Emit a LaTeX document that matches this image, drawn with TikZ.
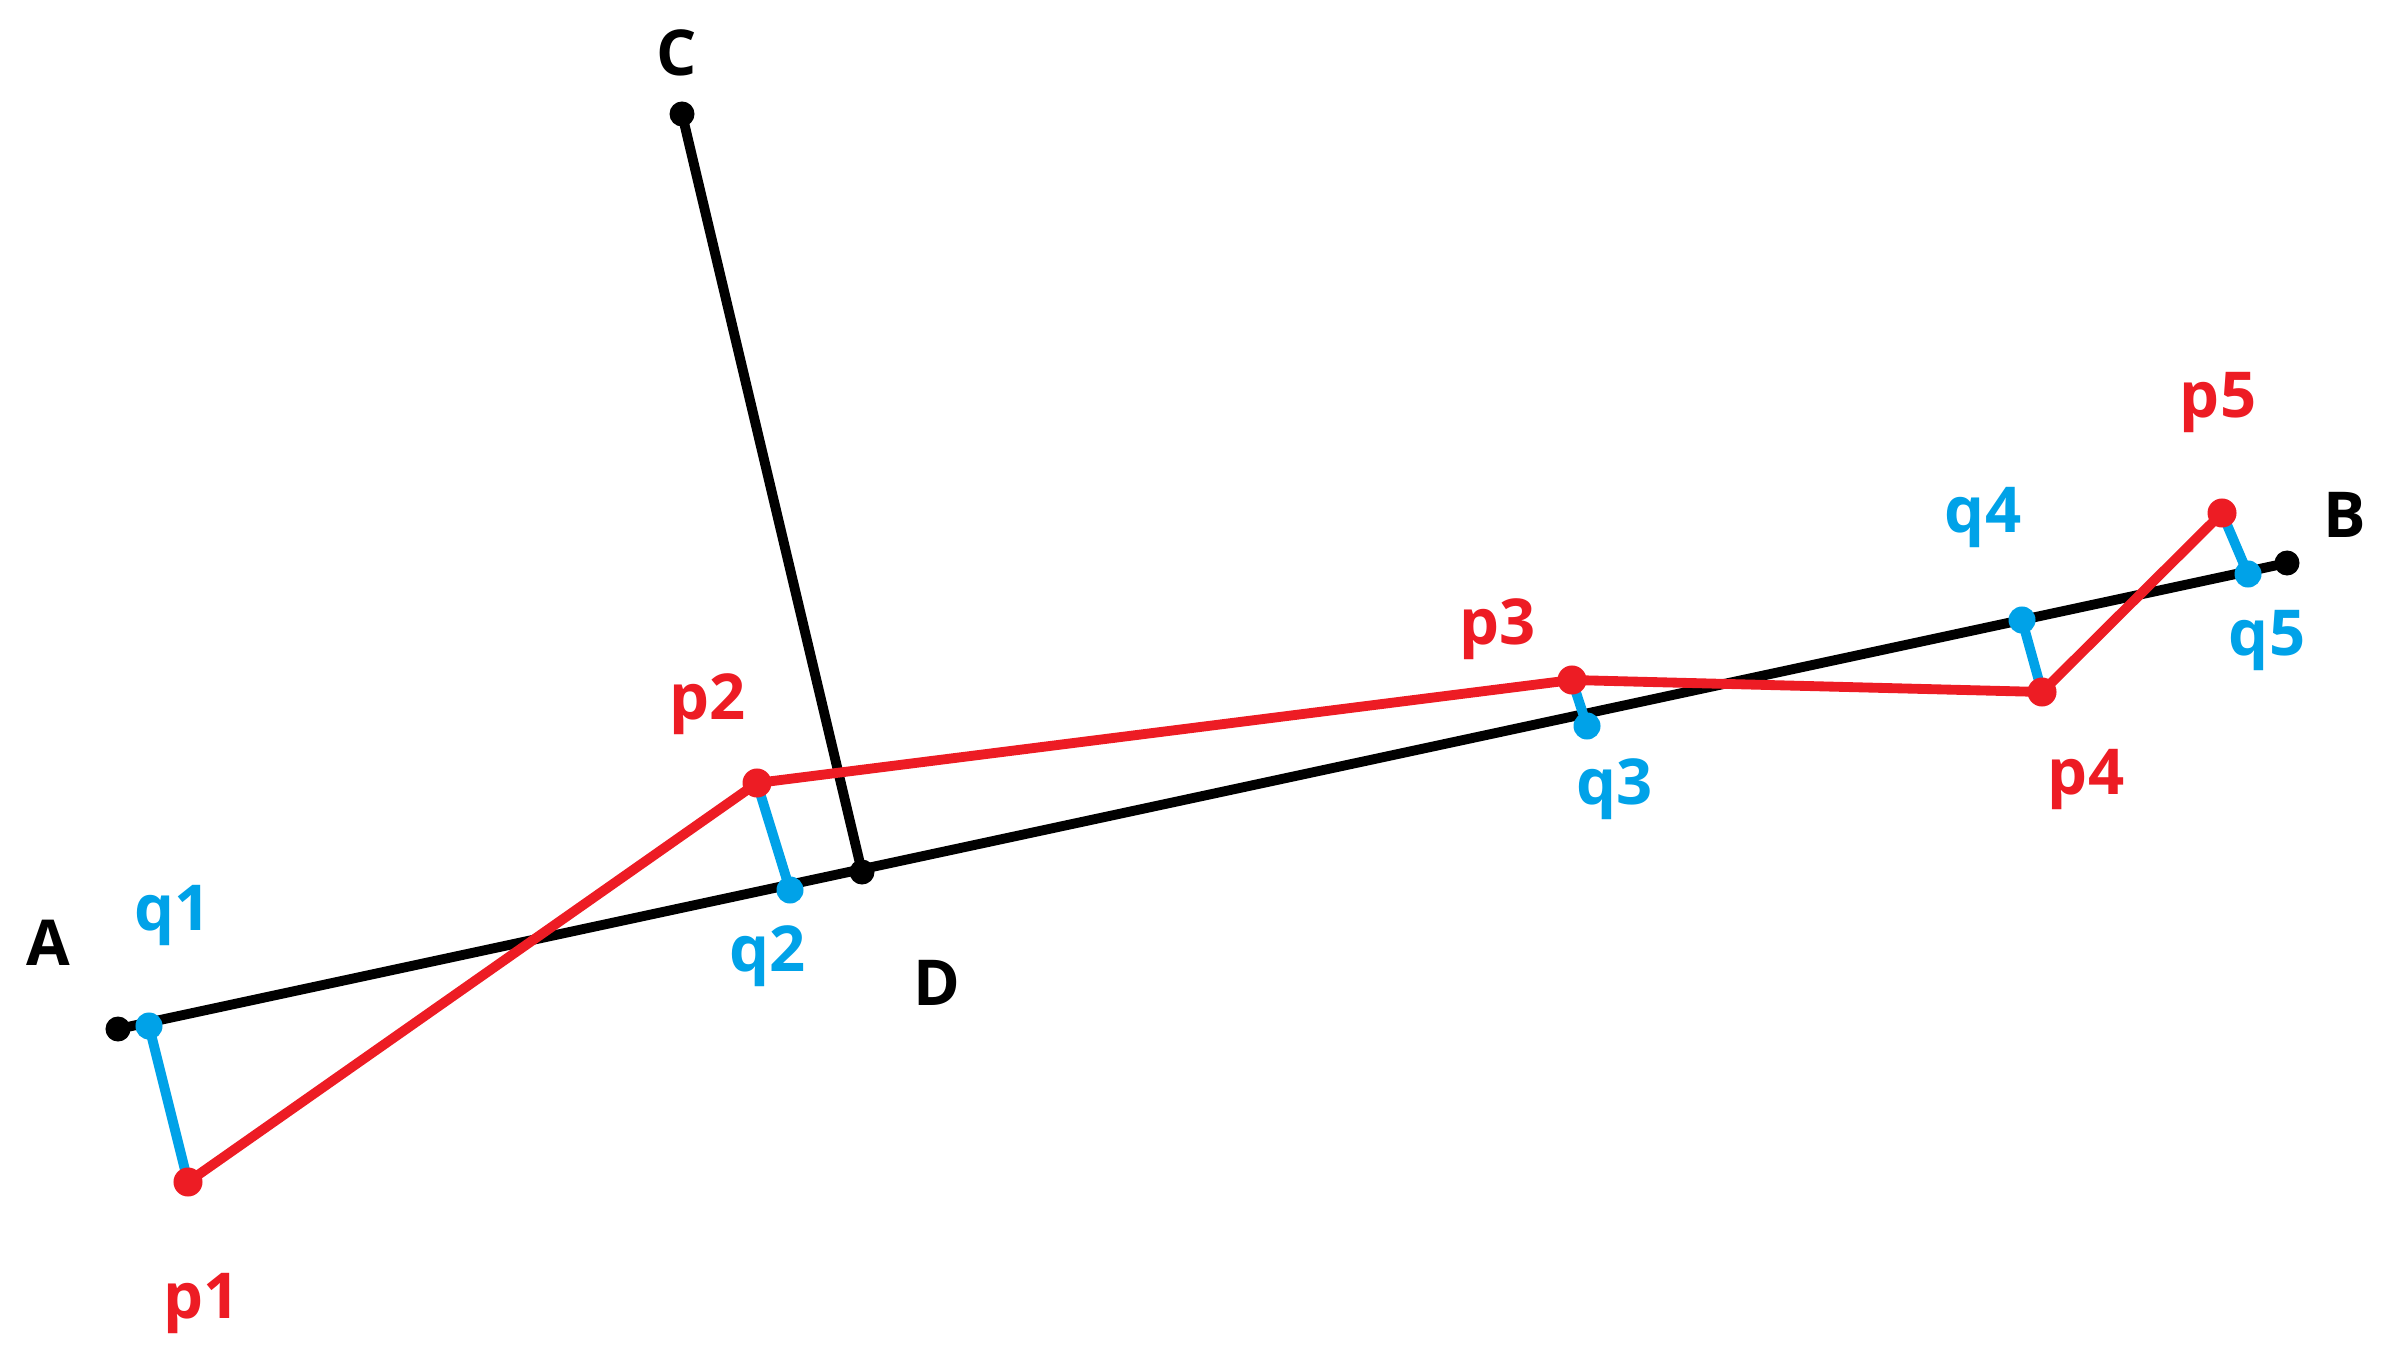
\documentclass[tikz,border=0pt]{standalone}
\usepackage{fontspec}
\setmainfont{Open Sans}
\definecolor{pred}{RGB}{237,28,36}
\definecolor{qblue}{RGB}{0,162,232}
\begin{document}
\begin{tikzpicture}[x=0.01cm,y=-0.01cm,
  ln/.style={line width=2.8pt},
  kdot/.style={circle,fill=black,inner sep=0pt,minimum size=0.25cm},
  rdot/.style={circle,fill=pred,inner sep=0pt,minimum size=0.29cm},
  bdot/.style={circle,fill=qblue,inner sep=0pt,minimum size=0.27cm},
  lab/.style={font=\fontsize{18}{20}\selectfont\bfseries,inner sep=0pt},
  klab/.style={lab,text=black},
  rlab/.style={lab,text=pred},
  blab/.style={lab,text=qblue}]
\useasboundingbox (0,0) rectangle (2400,1367);
% points
\coordinate (A) at (118,1029);
\coordinate (B) at (2287,563);
\coordinate (C) at (682,114);
\coordinate (D) at (862,872);
\coordinate (p1) at (188,1182);
\coordinate (p2) at (757,783);
\coordinate (p3) at (1572,680);
\coordinate (p4) at (2042,692);
\coordinate (p5) at (2222,513);
\coordinate (q1) at (149,1026);
\coordinate (q2) at (790,890);
\coordinate (q3) at (1587,726);
\coordinate (q4) at (2022,620);
\coordinate (q5) at (2248,574);
% black lines
\draw[ln] (A) -- (B);
\draw[ln] (C) -- (D);
% blue projections
\draw[ln,qblue] (p1) -- (q1);
\draw[ln,qblue] (p2) -- (q2);
\draw[ln,qblue] (p3) -- (q3);
\draw[ln,qblue] (p4) -- (q4);
\draw[ln,qblue] (p5) -- (q5);
% red polyline
\draw[ln,pred,line join=round] (p1) -- (p2) -- (p3) -- (p4) -- (p5);
% dots
\node[kdot] (dA) at (A) {};
\node[kdot] (dB) at (B) {};
\node[kdot] (dC) at (C) {};
\node[kdot] (dD) at (D) {};
\foreach \i in {1,...,5}{
  \node[rdot] (dp\i) at (p\i) {};
  \node[bdot] (dq\i) at (q\i) {};
}
% labels
\node[klab] (lA) at (48,943) {A};
\node[klab] (lB) at (2345,515) {B};
\node[klab] (lC) at (677,53) {C};
\node[klab] (lD) at (937,983) {D};
\node[rlab] (lp1) at (202,1303) {p1};
\node[rlab] (lp2) at (708,704) {p2};
\node[rlab] (lp3) at (1498,629) {p3};
\node[rlab] (lp4) at (2086,780) {p4};
\node[rlab] (lp5) at (2218,403) {p5};
\node[blab] (lq1) at (173,916) {q1};
\node[blab] (lq2) at (768,956) {q2};
\node[blab] (lq3) at (1615,789) {q3};
\node[blab] (lq4) at (1983,518) {q4};
\node[blab] (lq5) at (2267,641) {q5};
\end{tikzpicture}
\end{document}
